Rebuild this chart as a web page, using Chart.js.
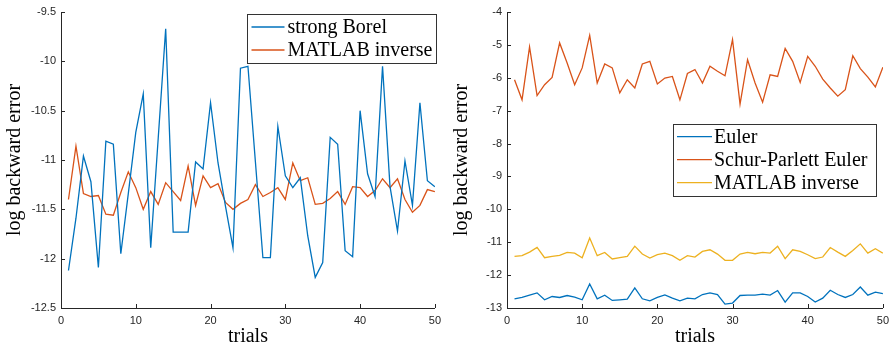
<!DOCTYPE html>
<html>
<head>
<meta charset="utf-8">
<script src="https://cdn.jsdelivr.net/npm/chart.js@4"></script>
<style>
  html, body { margin: 0; padding: 0; background: #fff; }
  #wrap { position: relative; width: 895px; height: 349px; overflow: hidden; }
  canvas { position: absolute; top: 0; }
  #c1 { left: 0; }
  #c2 { left: 447px; }
</style>
</head>
<body>
<div id="wrap">
  <canvas id="c1" width="447" height="349"></canvas>
  <canvas id="c2" width="448" height="349"></canvas>
</div>
<script>
// Trial index shared by both panels
const trials = [1,2,3,4,5,6,7,8,9,10,11,12,13,14,15,16,17,18,19,20,21,22,23,24,25,
                26,27,28,29,30,31,32,33,34,35,36,37,38,39,40,41,42,43,44,45,46,47,48,49,50];

// Left panel: log backward error per trial
const strongBorel = [-12.12,-11.59,-10.96,-11.22,-12.09,-10.81,-10.84,-11.95,-11.34,-10.72,
                     -10.33,-11.89,-10.78,-9.67,-11.73,-11.73,-11.73,-11.02,-11.09,-10.42,
                     -11.03,-11.47,-11.89,-10.07,-10.05,-11.02,-11.99,-11.99,-10.66,-11.16,
                     -11.28,-11.18,-11.77,-12.19,-12.04,-10.77,-10.84,-11.92,-11.98,-10.50,
                     -11.14,-11.37,-10.05,-11.27,-11.72,-11.01,-11.46,-10.42,-11.21,-11.27];
const matlabInverseLeft = [-11.40,-10.86,-11.34,-11.37,-11.36,-11.55,-11.56,-11.33,-11.12,-11.28,
                           -11.50,-11.32,-11.45,-11.23,-11.32,-11.41,-11.06,-11.46,-11.16,-11.28,
                           -11.24,-11.43,-11.50,-11.44,-11.40,-11.25,-11.37,-11.33,-11.28,-11.40,
                           -11.03,-11.21,-11.18,-11.45,-11.44,-11.39,-11.32,-11.45,-11.27,-11.28,
                           -11.37,-11.31,-11.19,-11.28,-11.19,-11.40,-11.53,-11.46,-11.30,-11.32];

// Right panel: log backward error per trial
const euler = [-12.72,-12.68,-12.61,-12.54,-12.75,-12.65,-12.68,-12.62,-12.67,-12.75,
               -12.27,-12.72,-12.61,-12.77,-12.75,-12.73,-12.39,-12.72,-12.78,-12.68,
               -12.60,-12.70,-12.78,-12.70,-12.72,-12.59,-12.54,-12.59,-12.88,-12.85,
               -12.62,-12.61,-12.61,-12.58,-12.61,-12.47,-12.82,-12.54,-12.54,-12.65,
               -12.82,-12.70,-12.46,-12.59,-12.68,-12.59,-12.36,-12.61,-12.52,-12.56];
const schurParlettEuler = [-6.06,-6.67,-5.06,-6.54,-6.21,-5.99,-4.94,-5.55,-6.21,-5.70,
                           -4.71,-6.16,-5.58,-5.70,-6.46,-6.06,-6.31,-5.58,-5.50,-6.19,
                           -6.01,-5.96,-6.67,-5.87,-5.75,-6.16,-5.65,-5.80,-5.94,-4.84,
                           -6.80,-5.45,-6.16,-6.74,-5.91,-5.96,-5.11,-5.50,-6.14,-5.35,
                           -5.65,-6.04,-6.31,-6.56,-6.36,-5.33,-5.72,-5.98,-6.28,-5.68];
const matlabInverseRight = [-11.43,-11.41,-11.30,-11.16,-11.47,-11.43,-11.40,-11.31,-11.33,-11.47,
                            -10.87,-11.41,-11.31,-11.51,-11.47,-11.43,-11.12,-11.36,-11.48,-11.38,
                            -11.33,-11.41,-11.55,-11.41,-11.45,-11.28,-11.23,-11.36,-11.55,-11.55,
                            -11.36,-11.31,-11.35,-11.31,-11.33,-11.12,-11.50,-11.23,-11.28,-11.38,
                            -11.50,-11.45,-11.16,-11.30,-11.43,-11.25,-11.05,-11.33,-11.20,-11.33];

// Tick values
const xTicks = [0, 10, 20, 30, 40, 50];
const yTicksLeft = [-12.5, -12, -11.5, -11, -10.5, -10, -9.5];
const yTicksRight = [-13, -12, -11, -10, -9, -8, -7, -6, -5, -4];

const BLUE = '#0072BD', ORANGE = '#D95319', YELLOW = '#EDB120';
const AXIS = '#262626';
const SERIF = '"Liberation Serif", "Times New Roman", serif';
const SANS = '"Liberation Sans", Arial, sans-serif';

const toPoints = ys => ys.map((y, i) => ({ x: trials[i], y }));

// Inward tick marks on the left and bottom axes
const inwardTicks = {
  id: 'inwardTicks',
  afterDraw(chart) {
    const ctx = chart.ctx;
    const { left, bottom } = chart.chartArea;
    const xs = chart.scales.x, ys = chart.scales.y;
    ctx.save();
    ctx.strokeStyle = AXIS;
    ctx.lineWidth = 1;
    ctx.beginPath();
    xs.ticks.forEach(t => {
      const px = Math.round(xs.getPixelForValue(t.value)) + 0.5;
      ctx.moveTo(px, bottom); ctx.lineTo(px, bottom - 4);
    });
    ys.ticks.forEach(t => {
      const py = Math.round(ys.getPixelForValue(t.value)) + 0.5;
      ctx.moveTo(left, py); ctx.lineTo(left + 4, py);
    });
    ctx.stroke();
    ctx.restore();
  }
};

// Boxed legend drawn inside the plot area
const boxLegend = {
  id: 'boxLegend',
  afterDraw(chart, args, o) {
    const ctx = chart.ctx;
    ctx.save();
    ctx.fillStyle = '#fff';
    ctx.fillRect(o.x, o.y, o.w, o.h);
    ctx.strokeStyle = '#333';
    ctx.lineWidth = 1;
    ctx.strokeRect(o.x + 0.5, o.y + 0.5, o.w, o.h);
    ctx.font = '20px ' + SERIF;
    ctx.textBaseline = 'middle';
    ctx.textAlign = 'left';
    chart.data.datasets.forEach((ds, i) => {
      const ry = o.y + o.firstRow + i * o.rowGap;
      ctx.strokeStyle = ds.borderColor;
      ctx.lineWidth = ds.borderWidth;
      ctx.beginPath();
      ctx.moveTo(o.x + o.inset, ry);
      ctx.lineTo(o.x + o.inset + o.lineLen, ry);
      ctx.stroke();
      ctx.fillStyle = '#000';
      ctx.fillText(ds.label, o.x + o.inset + o.lineLen + o.textGap, ry + 1);
    });
    ctx.restore();
  }
};

function makeChart(canvasId, datasets, yMin, yMax, yTicks, geom, legend) {
  return new Chart(document.getElementById(canvasId), {
    type: 'line',
    data: {
      datasets: datasets.map(d => ({
        label: d.label,
        data: toPoints(d.values),
        borderColor: d.color,
        backgroundColor: d.color,
        borderWidth: 1.3,
        pointRadius: 0,
        tension: 0,
        fill: false
      }))
    },
    options: {
      responsive: false,
      animation: false,
      layout: { padding: { left: 0, top: geom.top, right: geom.right, bottom: 0 } },
      plugins: {
        legend: { display: false },
        tooltip: { enabled: false },
        boxLegend: legend
      },
      scales: {
        x: {
          type: 'linear',
          min: 0, max: 50,
          afterBuildTicks: s => { s.ticks = xTicks.map(v => ({ value: v })); },
          afterFit: s => { s.height = geom.xHeight; },
          grid: { display: false, drawTicks: false },
          border: { display: true, color: AXIS, width: 1 },
          ticks: { color: AXIS, font: { family: SANS, size: 11 }, padding: 6, maxRotation: 0,
                   callback: v => String(v) },
          title: { display: true, text: 'trials', color: '#000',
                   font: { family: SERIF, size: 20 }, padding: { top: 0, bottom: 0 } }
        },
        y: {
          type: 'linear',
          min: yMin, max: yMax,
          afterBuildTicks: s => { s.ticks = yTicks.map(v => ({ value: v })); },
          afterFit: s => { s.width = geom.yWidth; },
          grid: { display: false, drawTicks: false },
          border: { display: true, color: AXIS, width: 1 },
          ticks: { color: AXIS, font: { family: SANS, size: 11 }, padding: 5,
                   callback: v => String(v) },
          title: { display: true, text: 'log backward error', color: '#000',
                   font: { family: SERIF, size: 20 }, padding: { top: 3, bottom: 0 } }
        }
      }
    },
    plugins: [inwardTicks, boxLegend]
  });
}

makeChart('c1',
  [
    { label: 'strong Borel', values: strongBorel, color: BLUE },
    { label: 'MATLAB inverse', values: matlabInverseLeft, color: ORANGE }
  ],
  -12.5, -9.5, yTicksLeft,
  { top: 12, right: 8, xHeight: 41, yWidth: 61 },
  { x: 247, y: 14, w: 189, h: 49, inset: 4.5, lineLen: 33, textGap: 3, firstRow: 13, rowGap: 23 }
);

makeChart('c2',
  [
    { label: 'Euler', values: euler, color: BLUE },
    { label: 'Schur-Parlett Euler', values: schurParlettEuler, color: ORANGE },
    { label: 'MATLAB inverse', values: matlabInverseRight, color: YELLOW }
  ],
  -13, -4, yTicksRight,
  { top: 12, right: 10, xHeight: 41, yWidth: 60 },
  { x: 226, y: 124, w: 203, h: 72, inset: 4, lineLen: 35, textGap: 2, firstRow: 12.7, rowGap: 23 }
);
</script>
</body>
</html>
